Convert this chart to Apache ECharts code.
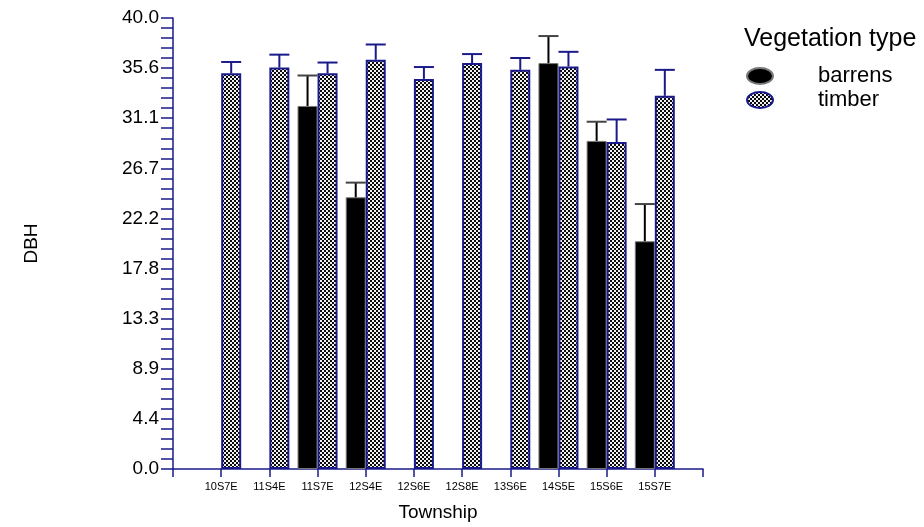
<!DOCTYPE html>
<html>
<head>
<meta charset="utf-8">
<script src="https://cdn.jsdelivr.net/npm/echarts@6/dist/echarts.min.js"></script>
<style>
  html, body { margin: 0; padding: 0; background: #fff; }
  #chart { width: 924px; height: 527px; }
</style>
</head>
<body>
<div id="chart"></div>
<script>
// Mean DBH by township and vegetation type, with upper standard-error whiskers
const townships = ['10S7E', '11S4E', '11S7E', '12S4E', '12S6E', '12S8E', '13S6E', '14S5E', '15S6E', '15S7E'];
const barrens    = [null, null, 32.2, 24.1, null, null, null, 36.0, 29.1, 20.2];
const barrensErr = [null, null, 2.7, 1.3, null, null, null, 2.4, 1.7, 3.3];
const timber     = [35.1, 35.6, 35.1, 36.3, 34.6, 36.0, 35.4, 35.7, 29.0, 33.1];
const timberErr  = [1.0, 1.15, 0.95, 1.35, 1.05, 0.8, 1.05, 1.3, 2.0, 2.3];
const yMin = 0, yMax = 40, yStep = 40 / 9;

const NAVY = '#1a1a8a';
const FONT = '"Liberation Sans", Arial, sans-serif';
const BAR_W = 20;

// Diagonal checker tile for the timber bars
function hatchTile() {
  const c = document.createElement('canvas');
  c.width = 4; c.height = 4;
  const g = c.getContext('2d');
  g.fillStyle = '#f2f2f2';
  g.fillRect(0, 0, 4, 4);
  g.fillStyle = '#0a0a0a';
  g.fillRect(2, 0, 2, 2);
  g.fillRect(0, 2, 2, 2);
  return c;
}
const hatch = { image: hatchTile(), repeat: 'repeat' };

// Category axis padded by an empty slot on each side so the axis runs one step past the outer bars
const axisCats = [''].concat(townships, ['']);
const pad = arr => [null].concat(arr, [null]);

function errData(vals, errs) {
  const out = [];
  vals.forEach((v, i) => {
    if (v != null && errs[i] != null) out.push([i + 1, v, errs[i]]);
  });
  return out;
}

function errRenderer(side, color, capColor) {
  return function (params, api) {
    const idx = api.value(0), v = api.value(1), e = api.value(2);
    const base = api.coord([idx, v]);
    const top = api.coord([idx, v + e]);
    const cx = base[0] + side * BAR_W / 2;
    return {
      type: 'group',
      children: [
        { type: 'line', shape: { x1: cx, y1: base[1], x2: cx, y2: top[1] },
          style: { stroke: color, lineWidth: 2 } },
        { type: 'line', shape: { x1: cx - BAR_W / 2, y1: top[1], x2: cx + BAR_W / 2, y2: top[1] },
          style: { stroke: capColor, lineWidth: 2 } }
      ]
    };
  };
}

const chart = echarts.init(document.getElementById('chart'));
chart.setOption({
  animation: false,
  backgroundColor: '#fff',
  textStyle: { fontFamily: FONT, color: '#000' },
  title: {
    text: 'Vegetation type',
    left: 739, top: 22,
    textStyle: { fontFamily: FONT, fontSize: 25, fontWeight: 'normal', color: '#000' }
  },
  legend: {
    data: ['barrens', 'timber'],
    orient: 'vertical',
    left: 741, top: 60,
    itemWidth: 28, itemHeight: 16, itemGap: 2,
    icon: 'path://M0,8 A13,8 0 1,1 26,8 A13,8 0 1,1 0,8 Z',
    textStyle: { fontFamily: FONT, fontSize: 22, color: '#000', padding: [0, 0, 0, 39] }
  },
  grid: { left: 173, right: 221, top: 18, bottom: 58, outerBoundsMode: 'none' },
  xAxis: {
    type: 'category',
    data: axisCats,
    boundaryGap: false,
    name: 'Township',
    nameLocation: 'middle',
    nameGap: 34,
    nameTextStyle: { fontFamily: FONT, fontSize: 19, color: '#000' },
    axisLine: { lineStyle: { color: NAVY, width: 1.5 } },
    axisTick: { show: true, interval: 0, length: 8, lineStyle: { color: NAVY, width: 1.5 } },
    axisLabel: { interval: 0, fontSize: 11, color: '#000', margin: 12 },
    splitLine: { show: false }
  },
  yAxis: {
    type: 'value',
    min: yMin, max: yMax, interval: yStep,
    name: 'DBH',
    nameLocation: 'middle',
    nameRotate: 90,
    nameGap: 132,
    nameTextStyle: { fontFamily: FONT, fontSize: 19, color: '#000' },
    axisLine: { show: true, lineStyle: { color: NAVY, width: 1.5 } },
    axisTick: { show: true, length: 12, lineStyle: { color: NAVY, width: 1.5 } },
    minorTick: { show: true, splitNumber: 5, length: 12, lineStyle: { color: NAVY, width: 1.5 } },
    axisLabel: { fontSize: 19, color: '#000', margin: 14, formatter: v => v.toFixed(1) },
    splitLine: { show: false }
  },
  series: [
    {
      name: 'barrens', type: 'bar', data: pad(barrens),
      barWidth: BAR_W, barGap: '0%',
      itemStyle: { color: '#000', borderColor: '#777', borderWidth: 1 },
      z: 2
    },
    {
      name: 'timber', type: 'bar', data: pad(timber),
      barWidth: BAR_W, barGap: '0%',
      itemStyle: { color: hatch, borderColor: NAVY, borderWidth: 2 },
      z: 3
    },
    {
      name: 'barrens SE', type: 'custom', data: errData(barrens, barrensErr),
      renderItem: errRenderer(-1, '#000', '#444'), z: 5, silent: true
    },
    {
      name: 'timber SE', type: 'custom', data: errData(timber, timberErr),
      renderItem: errRenderer(1, NAVY, NAVY), z: 5, silent: true
    }
  ]
});
</script>
</body>
</html>
